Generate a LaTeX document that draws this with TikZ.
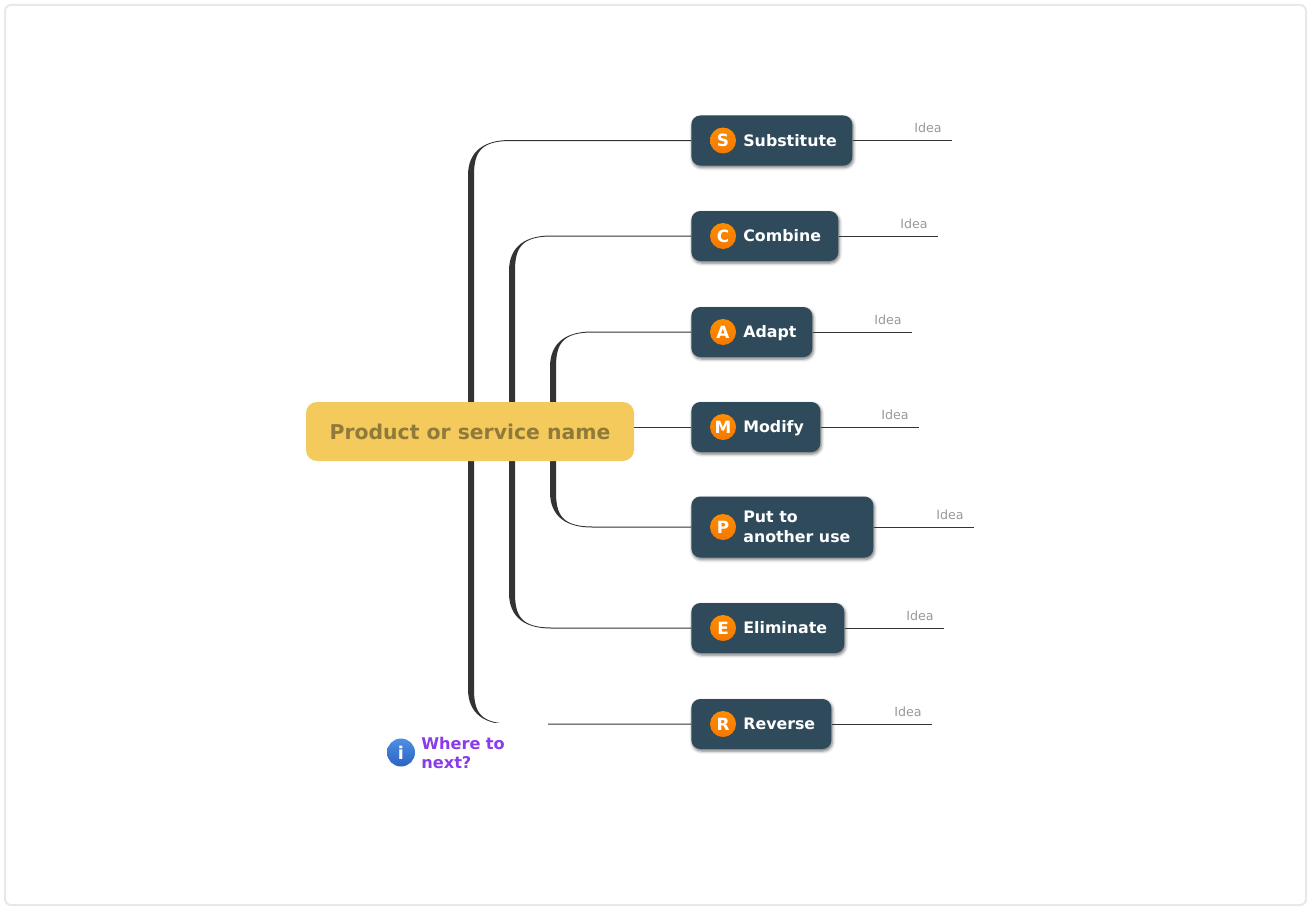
\documentclass[tikz,border=0pt]{standalone}
\usepackage{fontspec}
\setmainfont{DejaVu Sans}
\usetikzlibrary{calc,backgrounds,shadows.blur}
\def\pxu{0.02cm}
\definecolor{rootfill}{HTML}{F4CA5C}
\definecolor{roottext}{HTML}{8F7A3A}
\definecolor{topicfill}{HTML}{2E4A5B}
\definecolor{wire}{HTML}{333333}
\definecolor{nexttext}{HTML}{8A3BEB}
\definecolor{icontop}{HTML}{FF8C00}
\definecolor{iconbot}{HTML}{F57800}
\definecolor{infotop}{HTML}{4F8FE3}
\definecolor{infobot}{HTML}{2A63C2}
\begin{document}
\begin{tikzpicture}[x=0.02cm, y=-0.02cm,
    R/.style={rectangle, fill=rootfill, text=roottext, rounded corners=11*\pxu, minimum width=328*\pxu, minimum height=59*\pxu, inner sep=0pt, font=\bfseries\fontsize{11.6}{14}\selectfont},
    T/.style={rectangle, fill=topicfill, rounded corners=9*\pxu, anchor=west, inner sep=0pt, blur shadow={shadow xshift=1*\pxu, shadow yshift=-2*\pxu, shadow blur radius=3*\pxu, shadow opacity=55}},
    L/.style={anchor=west, align=left, text=white, inner sep=0pt, font=\bfseries\fontsize{9}{11.3}\selectfont},
    O/.style={circle, top color=icontop, bottom color=iconbot, text=white, minimum size=26*\pxu, inner sep=0pt, font=\bfseries\fontsize{9.6}{12}\selectfont},
    I/.style={text=gray!80!white, inner sep=0pt, font=\fontsize{7.2}{9}\selectfont},
    W/.style={draw=wire, line width=\pxu},
    B/.style={fill=wire}]

    \useasboundingbox (0,0) rectangle (1311,909);

    % Cornice
    \draw[black!9, line width=2*\pxu, rounded corners=6*\pxu] (5,5) rectangle (1306,905);

    % Radice
    \node[R] (root) at (470,431.5) {Product or service name};

    % Rami con idea
    \foreach \n/\y/\w/\h/\e/\t in {S/140.5/161/50/952/Substitute, C/236/147/50/938/Combine, A/332/121/50/912/Adapt,
        M/427/129/50/919/Modify, P/527/182/61/974/{Put to\\another use}, E/628/153/50/944/Eliminate, R/724/140/50/932/Reverse} {
      \node[T, minimum width=\w*\pxu, minimum height=\h*\pxu] (\n) at (691,\y) {};
      \node[O] (\n-o) at ($(\n.west)+(32,0)$) {\n};
      \node[L] (\n-l) at ($(\n.west)+(52,1.5)$) {\t\vphantom{Ap}};
      \coordinate (\n-e) at (\e,\y);
      \draw[W] (\n.east) -- (\n-e);
      \node[I] (\n-i) at ($(\n-e)+(-24,-12.5)$) {Idea};
    }

    % Rami curvi
    \begin{scope}[on background layer]
      \foreach \x/\n/\s in {471/S/1, 512/C/1, 553/A/1, 553/P/-1, 512/E/-1, 471/R/-1} {
        \coordinate (hub) at (\x,431);
        \coordinate (k) at (hub |- \n.west);
        \fill[B] ($(hub)+(-3,0)$) -- ($(k)+(-3,\s*35)$)
          .. controls ($(k)+(-3,\s*10)$) and ($(k)+(14,\s*-0.5)$) .. ($(k)+(39,\s*-0.5)$)
          -- ($(\n.west)+(0,\s*-0.5)$) -- ($(\n.west)+(0,\s*0.5)$) -- ($(k)+(39,\s*0.5)$)
          .. controls ($(k)+(9,\s*0.5)$) and ($(k)+(3,\s*12.5)$) .. ($(k)+(3,\s*35)$)
          -- ($(hub)+(3,0)$) -- cycle;
      }
      \draw[W] (root.east |- M.west) -- (M.west);
    \end{scope}

    % Dove andare
    \node[anchor=north west, fill=white, text width=124*\pxu, minimum width=130*\pxu, align=left, inner xsep=3*\pxu, inner ysep=13.5*\pxu, text=nexttext, font=\bfseries\fontsize{9.2}{10.8}\selectfont] (next) at (418,723) {Where to\\next?};
    \node[circle, top color=infotop, bottom color=infobot, text=white, minimum size=28*\pxu, inner sep=0pt, font=\bfseries\fontsize{10}{12}\selectfont] (info) at (401,752.5) {i};
  \end{tikzpicture}
\end{document}
